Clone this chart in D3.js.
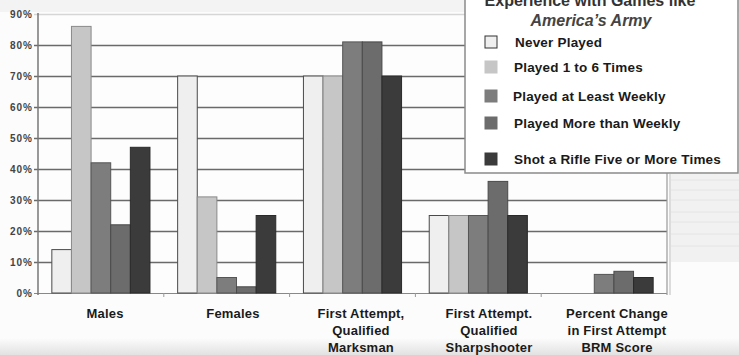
<!DOCTYPE html>
<html>
<head>
<meta charset="utf-8">
<script src="https://cdn.jsdelivr.net/npm/d3@7"></script>
<style>
  html, body { margin: 0; padding: 0; background: #fcfcfc; }
  svg { display: block; font-family: "Liberation Sans", Arial, sans-serif; }
</style>
</head>
<body>
<svg id="chart" width="739" height="355"></svg>
<script>
// Groups along the x axis (multi-line labels)
const categories = [
  ["Males"],
  ["Females"],
  ["First Attempt,", "Qualified", "Marksman"],
  ["First Attempt.", "Qualified", "Sharpshooter"],
  ["Percent Change", "in First Attempt", "BRM Score"]
];

// Series names (legend order)
const seriesNames = [
  "Never Played",
  "Played 1 to 6 Times",
  "Played at Least Weekly",
  "Played More than Weekly",
  "Shot a Rifle Five or More Times"
];

// Values in percent, one entry per category (null = no bar)
const neverPlayed   = [14, 70, 70, 25, null];
const played1to6    = [86, 31, 70, 25, null];
const atLeastWeekly = [42, 5, 81, 25, 6];
const moreThanWeekly= [22, 2, 81, 36, 7];
const shotRifle     = [47, 25, 70, 25, 5];

const yTicks = [0, 10, 20, 30, 40, 50, 60, 70, 80, 90];

const seriesValues = [neverPlayed, played1to6, atLeastWeekly, moreThanWeekly, shotRifle];
const fills   = ["#efefef", "#c6c6c6", "#7d7d7d", "#6c6c6c", "#3b3b3b"];
const strokes = ["#4a4a4a", "#8a8a8a", "#555555", "#4a4a4a", "#2a2a2a"];

const svg = d3.select("#chart");

const plotLeft = 38, plotRight = 667, plotTop = 14, plotBottom = 293;

// faint strip along the top edge
svg.append("rect").attr("x", 0).attr("y", 0).attr("width", 739).attr("height", 12).attr("fill", "#f3f3f3");

// light band at the right edge under the legend
svg.append("rect").attr("x", 671).attr("y", 174).attr("width", 68).attr("height", 88)
  .attr("fill", "#f1f1f1");
[180, 190, 200, 212, 222, 234, 246].forEach(y => {
  svg.append("line").attr("x1", 671).attr("x2", 739).attr("y1", y).attr("y2", y)
    .attr("stroke", "#e4e4e4").attr("stroke-width", 1);
});

// bottom haze
const defs = svg.append("defs");
const grad = defs.append("linearGradient").attr("id", "haze").attr("x1", 0).attr("x2", 0).attr("y1", 0).attr("y2", 1);
grad.append("stop").attr("offset", "0%").attr("stop-color", "#fcfcfc");
grad.append("stop").attr("offset", "100%").attr("stop-color", "#e2e2e2");
svg.append("rect").attr("x", 0).attr("y", 338).attr("width", 739).attr("height", 17).attr("fill", "url(#haze)");

const x0 = d3.scaleBand()
  .domain(d3.range(categories.length))
  .range([plotLeft, plotRight])
  .paddingInner(0.22)
  .paddingOuter(0.11);

const x1 = d3.scaleBand()
  .domain(d3.range(seriesNames.length))
  .range([0, x0.bandwidth()]);

// label anchor positions under each group
const xLabel = d3.scalePoint()
  .domain(d3.range(categories.length))
  .range([105, 617]);

const y = d3.scaleLinear().domain([0, 90]).range([plotBottom, plotTop]);

// plot area background
svg.append("rect").attr("x", plotLeft).attr("y", plotTop)
  .attr("width", plotRight - plotLeft).attr("height", plotBottom - plotTop)
  .attr("fill", "#fdfdfd");

// horizontal gridlines
const yAxis = d3.axisLeft(y).tickValues(yTicks).tickFormat(d => d + "%")
  .tickSize(-(plotRight - plotLeft + 4)).tickPadding(1);
const gy = svg.append("g").attr("transform", `translate(${plotLeft - 4},0)`).call(yAxis);
gy.select(".domain").remove();
gy.selectAll(".tick line")
  .attr("stroke", d => d === 90 ? "#d6d6d6" : d === 0 ? "#888" : "#6a6a6a")
  .attr("stroke-width", d => d === 90 ? 1.4 : d === 0 ? 1.2 : 1.6);
gy.selectAll(".tick text")
  .attr("fill", "#444").attr("font-size", 10).attr("font-weight", "bold")
  .attr("letter-spacing", 1);

// y axis line and right border
svg.append("line").attr("x1", plotLeft).attr("x2", plotLeft).attr("y1", plotTop - 1).attr("y2", plotBottom + 2)
  .attr("stroke", "#777").attr("stroke-width", 1.5);
svg.append("line").attr("x1", plotRight).attr("x2", plotRight).attr("y1", plotTop - 1).attr("y2", plotBottom + 2)
  .attr("stroke", "#999").attr("stroke-width", 1.2);
svg.append("line").attr("x1", plotRight + 3).attr("x2", plotRight + 3).attr("y1", 174).attr("y2", plotBottom + 2)
  .attr("stroke", "#bbb").attr("stroke-width", 1);

// bars
const groups = svg.append("g").selectAll("g")
  .data(categories)
  .join("g")
  .attr("transform", (d, i) => `translate(${x0(i)},0)`);

groups.selectAll("rect")
  .data((d, ci) => seriesValues.map((vals, si) => ({ si, v: vals[ci] })).filter(e => e.v != null))
  .join("rect")
  .attr("x", d => x1(d.si))
  .attr("y", d => y(d.v))
  .attr("width", x1.bandwidth())
  .attr("height", d => y(0) - y(d.v))
  .attr("fill", d => fills[d.si])
  .attr("stroke", d => strokes[d.si])
  .attr("stroke-width", 1);

// x axis ticks between groups
const step = x0.step();
d3.range(1, categories.length).forEach(i => {
  const xx = x0(i) - step * 0.11;
  svg.append("line").attr("x1", xx).attr("x2", xx).attr("y1", plotBottom).attr("y2", plotBottom + 4)
    .attr("stroke", "#999").attr("stroke-width", 1);
});

// category labels
const labels = svg.append("g").selectAll("text")
  .data(categories)
  .join("text")
  .attr("text-anchor", "middle")
  .attr("font-size", 13)
  .attr("font-weight", "bold")
  .attr("letter-spacing", 0.2)
  .attr("fill", "#1a1a1a")
  .attr("transform", (d, i) => `translate(${xLabel(i)},318)`);
labels.selectAll("tspan")
  .data(d => d)
  .join("tspan")
  .attr("x", 0)
  .attr("dy", (d, i) => i === 0 ? 0 : 17)
  .text(d => d);

// legend
const legend = svg.append("g");
legend.append("rect").attr("x", 465).attr("y", -6).attr("width", 273).attr("height", 179)
  .attr("fill", "#ffffff").attr("stroke", "#8a8a8a").attr("stroke-width", 1.5);
legend.append("text").attr("x", 590).attr("y", 6).attr("text-anchor", "middle")
  .attr("font-size", 16).attr("font-weight", "bold").attr("fill", "#333")
  .text("Experience with Games like");
legend.append("text").attr("x", 591).attr("y", 26).attr("text-anchor", "middle")
  .attr("font-size", 16).attr("font-weight", "bold").attr("font-style", "italic").attr("fill", "#444")
  .text("America\u2019s Army");

const legendRows = [47, 72, 101, 128, 164];
const legendTextX = [515, 514, 513, 514, 514];
seriesNames.forEach((name, i) => {
  legend.append("rect").attr("x", 485).attr("y", legendRows[i] - 11).attr("width", 12).attr("height", 12)
    .attr("fill", fills[i]).attr("stroke", i === 0 ? "#333" : fills[i]).attr("stroke-width", 1);
  legend.append("text").attr("x", legendTextX[i]).attr("y", legendRows[i])
    .attr("font-size", 13.5).attr("font-weight", "bold").attr("letter-spacing", 0.2).attr("fill", "#1a1a1a")
    .text(name);
});
</script>
</body>
</html>
